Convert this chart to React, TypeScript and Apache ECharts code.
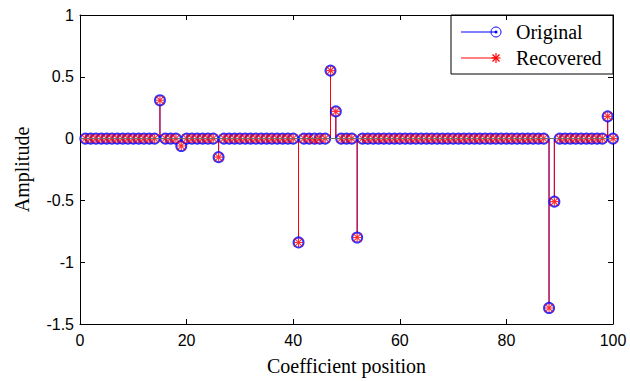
import React, { useEffect, useRef } from "react";
import * as echarts from "echarts";

const positions: number[] = Array.from({ length: 100 }, (_, i) => i + 1);

const originalValues: number[] = [
  0, 0, 0, 0, 0, 0, 0, 0, 0, 0,
  0, 0, 0, 0, 0.31, 0, 0, 0, -0.06, 0,
  0, 0, 0, 0, 0, -0.15, 0, 0, 0, 0,
  0, 0, 0, 0, 0, 0, 0, 0, 0, 0,
  -0.84, 0, 0, 0, 0, 0, 0.55, 0.22, 0, 0,
  0, -0.8, 0, 0, 0, 0, 0, 0, 0, 0,
  0, 0, 0, 0, 0, 0, 0, 0, 0, 0,
  0, 0, 0, 0, 0, 0, 0, 0, 0, 0,
  0, 0, 0, 0, 0, 0, 0, -1.37, -0.51, 0,
  0, 0, 0, 0, 0, 0, 0, 0, 0.18, 0,
];

const recoveredValues: number[] = [
  0, 0, 0, 0, 0, 0, 0, 0, 0, 0,
  0, 0, 0, 0, 0.31, 0, 0, 0, -0.06, 0,
  0, 0, 0, 0, 0, -0.15, 0, 0, 0, 0,
  0, 0, 0, 0, 0, 0, 0, 0, 0, 0,
  -0.84, 0, 0, -0.01, 0, 0, 0.55, 0.22, 0, 0,
  0, -0.8, 0, 0, 0, 0, 0, 0, 0, 0,
  0, 0, 0, 0, 0, 0, 0, 0, 0, 0,
  0, 0, 0, 0, 0, 0, 0, 0, 0, 0,
  0, 0, 0, 0, 0, 0, 0, -1.37, -0.51, 0,
  0, 0, 0, 0, 0, 0, 0, 0, 0.18, 0,
];

const xTicks = { min: 0, max: 100, interval: 20 };
const yTicks = { min: -1.5, max: 1, interval: 0.5 };
const legendNames = ["Original", "Recovered"];

const BLUE = "#0000ff";
const RED = "#ff0000";

const ASTERISK =
  "path://M8.8 0H11.2V20H8.8Z M0 8.8H20V11.2H0Z M1.7 0L20 18.3L18.3 20L0 1.7Z M18.3 0L20 1.7L1.7 20L0 18.3Z";

function stemSeries(name: string, values: number[], color: string) {
  const data = positions.map((p, i) => [p, values[i]]);
  return {
    type: "custom",
    name: name + " stems",
    data,
    encode: { x: 0, y: 1 },
    renderItem: (_params: any, api: any) => {
      const x = api.value(0);
      const v = api.value(1);
      const p0 = api.coord([x, 0]);
      const p1 = api.coord([x, v]);
      return {
        type: "line",
        shape: { x1: p0[0], y1: p0[1], x2: p1[0], y2: p1[1] },
        style: { stroke: color, lineWidth: 1 },
      };
    },
    silent: true,
  };
}

export default function App() {
  const ref = useRef<HTMLDivElement>(null);
  useEffect(() => {
    if (!ref.current) return;
    const chart = echarts.init(ref.current, undefined, { renderer: "svg" });
    const axisLine = { show: true, onZero: false, lineStyle: { color: "#000", width: 1 } };
    const axisTick = { show: true, inside: true, length: 5, lineStyle: { color: "#000" } };
    const labelFont = { fontFamily: "Liberation Sans", fontSize: 16, color: "#000" };
    const nameFont = { fontFamily: "Liberation Serif", fontSize: 20, color: "#000" };
    const origData = positions.map((p, i) => [p, originalValues[i]]);
    const recData = positions.map((p, i) => [p, recoveredValues[i]]);

    const legendFont = "20px Liberation Serif";
    const option: any = {
      animation: false,
      backgroundColor: "#fff",
      grid: { left: 80, right: 17, top: 15, bottom: 57, containLabel: false },
      xAxis: [
        {
          type: "value",
          ...xTicks,
          position: "bottom",
          axisLine,
          axisTick,
          splitLine: { show: false },
          axisLabel: { ...labelFont, margin: 8 },
          name: "Coefficient position",
          nameLocation: "middle",
          nameGap: 32,
          nameTextStyle: nameFont,
        },
        {
          type: "value",
          ...xTicks,
          position: "top",
          axisLine,
          axisTick,
          splitLine: { show: false },
          axisLabel: { show: false },
        },
      ],
      yAxis: [
        {
          type: "value",
          ...yTicks,
          position: "left",
          axisLine,
          axisTick,
          splitLine: { show: false },
          axisLabel: { ...labelFont, margin: 6 },
          name: "Amplitude",
          nameLocation: "middle",
          nameGap: 48,
          nameTextStyle: nameFont,
        },
        {
          type: "value",
          ...yTicks,
          position: "right",
          axisLine,
          axisTick,
          splitLine: { show: false },
          axisLabel: { show: false },
        },
      ],
      series: [
        {
          type: "line",
          name: "baseline",
          data: [],
          markLine: {
            silent: true,
            symbol: "none",
            label: { show: false },
            lineStyle: { color: "#707070", width: 1, type: "solid" },
            data: [{ yAxis: 0 }],
          },
        },
        stemSeries(legendNames[0], originalValues, BLUE),
        {
          type: "scatter",
          name: legendNames[0],
          data: origData,
          symbol: "emptyCircle",
          symbolSize: 10,
          itemStyle: { color: BLUE, borderColor: BLUE, borderWidth: 1 },
          silent: true,
        },
        stemSeries(legendNames[1], recoveredValues, RED),
        {
          type: "scatter",
          name: legendNames[1],
          data: recData,
          symbol: ASTERISK,
          symbolSize: 9,
          itemStyle: { color: RED },
          silent: true,
        },
      ],
      graphic: [
        {
          type: "group",
          z: 100,
          children: [
            {
              type: "rect",
              shape: { x: 451, y: 15, width: 162, height: 59 },
              style: { fill: "#fff", stroke: "#000", lineWidth: 1 },
            },
            {
              type: "line",
              shape: { x1: 461, y1: 32, x2: 496, y2: 32 },
              style: { stroke: BLUE, lineWidth: 1 },
            },
            {
              type: "circle",
              shape: { cx: 496, cy: 32, r: 5 },
              style: { fill: "none", stroke: BLUE, lineWidth: 1 },
            },
            {
              type: "circle",
              shape: { cx: 496, cy: 32, r: 1.5 },
              style: { fill: BLUE },
            },
            {
              type: "text",
              x: 516,
              y: 32,
              style: { text: legendNames[0], font: legendFont, fill: "#000", verticalAlign: "middle", align: "left" },
            },
            {
              type: "line",
              shape: { x1: 461, y1: 58, x2: 496, y2: 58 },
              style: { stroke: RED, lineWidth: 1 },
            },
            { type: "line", shape: { x1: 496, y1: 53, x2: 496, y2: 63 }, style: { stroke: RED, lineWidth: 1.2 } },
            { type: "line", shape: { x1: 491.5, y1: 58, x2: 500.5, y2: 58 }, style: { stroke: RED, lineWidth: 1.2 } },
            { type: "line", shape: { x1: 492.5, y1: 54.5, x2: 499.5, y2: 61.5 }, style: { stroke: RED, lineWidth: 1.2 } },
            { type: "line", shape: { x1: 499.5, y1: 54.5, x2: 492.5, y2: 61.5 }, style: { stroke: RED, lineWidth: 1.2 } },
            {
              type: "text",
              x: 516,
              y: 58,
              style: { text: legendNames[1], font: legendFont, fill: "#000", verticalAlign: "middle", align: "left" },
            },
          ],
        },
      ],
    };
    chart.setOption(option);
    return () => chart.dispose();
  }, []);
  return (
    <div
      ref={ref}
      style={{ position: "fixed", left: 0, top: 0, width: 630, height: 381, background: "#fff" }}
    />
  );
}
